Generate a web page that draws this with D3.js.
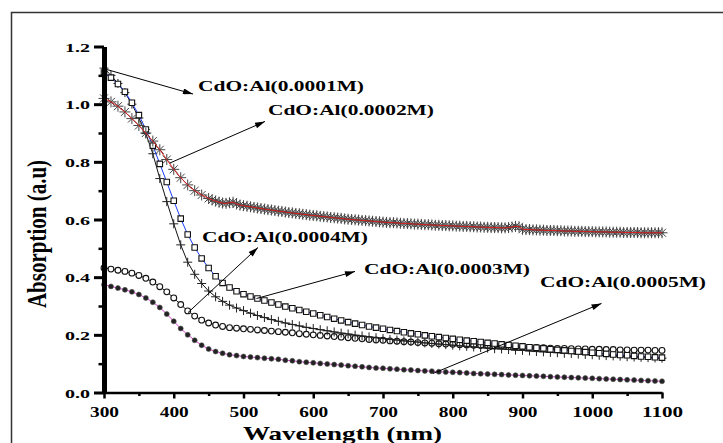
<!DOCTYPE html>
<html><head><meta charset="utf-8">
<script src="https://cdn.jsdelivr.net/npm/d3@7"></script>
<style>body{margin:0;background:#fff}</style>
</head><body><svg id="c" width="723" height="443"></svg>
<script>
const wl10 = [300,310,320,330,340,350,360,370,380,390,400,410,420,430,440,450,460,470,480,490,500,510,520,530,540,550,560,570,580,590,600,610,620,630,640,650,660,670,680,690,700,710,720,730,740,750,760,770,780,790,800,810,820,830,840,850,860,870,880,890,900,910,920,930,940,950,960,970,980,990,1000,1010,1020,1030,1040,1050,1060,1070,1080,1090,1100];
const wlStar = [300,310,320,330,340,350,360,370,380,390,400,410,420,430,440,
450,455,460,465,470,475,480,485,490,495,500,505,510,515,520,525,530,535,540,545,550,555,560,565,570,575,580,585,590,595,600,605,610,615,620,625,630,635,640,645,650,655,660,665,670,675,680,685,690,695,700,705,710,715,720,725,730,735,740,745,750,755,760,765,770,775,780,785,790,795,800,805,810,815,820,825,830,835,840,845,850,855,860,865,870,875,880,885,890,895,900,905,910,915,920,925,930,935,940,945,950,955,960,965,970,975,980,985,990,995,1000,1005,1010,1015,1020,1025,1030,1035,1040,1045,1050,1055,1060,1065,1070,1075,1080,1085,1090,1095,1100];

const s0001 = [1.125,1.100,1.072,1.040,1.000,0.952,0.898,0.828,0.742,0.662,
0.585,0.512,0.452,0.410,0.378,0.352,0.332,0.316,0.303,0.293,
0.284,0.275,0.267,0.260,0.253,0.247,0.241,0.236,0.231,0.226,
0.222,0.218,0.214,0.210,0.206,0.203,0.199,0.196,0.193,0.190,
0.187,0.184,0.182,0.179,0.177,0.175,0.172,0.170,0.168,0.166,
0.164,0.162,0.160,0.158,0.156,0.154,0.152,0.151,0.149,0.147,
0.146,0.144,0.142,0.141,0.139,0.138,0.136,0.135,0.133,0.132,
0.131,0.129,0.128,0.127,0.126,0.124,0.123,0.122,0.121,0.120,0.119];

const s0002 = [1.020,1.008,0.993,0.973,0.950,0.926,0.900,0.872,0.842,0.808,0.774,0.745,0.720,0.700,0.685,
0.673,0.668,0.664,0.660,0.657,0.656,0.658,0.660,0.654,0.650,
0.648,0.646,0.644,0.642,0.640,0.638,0.636,0.634,0.633,0.631,
0.629,0.628,0.626,0.624,0.623,0.621,0.620,0.618,0.617,0.615,
0.614,0.613,0.611,0.610,0.609,0.607,0.606,0.605,0.604,0.602,
0.601,0.600,0.599,0.598,0.597,0.596,0.595,0.594,0.593,0.592,
0.591,0.590,0.589,0.589,0.588,0.587,0.586,0.586,0.585,0.584,
0.584,0.583,0.582,0.582,0.581,0.580,0.580,0.579,0.579,0.578,
0.578,0.577,0.577,0.576,0.576,0.575,0.575,0.574,0.574,0.573,
0.573,0.572,0.572,0.572,0.571,0.571,0.572,0.574,0.576,0.575,
0.566,0.565,0.565,0.564,0.564,0.563,0.563,0.562,0.562,0.562,
0.561,0.561,0.560,0.560,0.560,0.559,0.559,0.559,0.558,0.558,
0.558,0.557,0.557,0.557,0.557,0.556,0.556,0.556,0.556,0.555,
0.555,0.555,0.555,0.555,0.554,0.554,0.554,0.554,0.554,0.554,0.554];

const s0003 = [1.110,1.092,1.070,1.043,1.005,0.962,0.912,0.856,0.793,0.730,
0.665,0.603,0.548,0.503,0.465,0.432,0.403,0.380,0.364,0.351,
0.341,0.333,0.326,0.319,0.312,0.305,0.298,0.292,0.286,0.280,
0.274,0.268,0.262,0.256,0.250,0.244,0.239,0.234,0.229,0.225,
0.221,0.217,0.213,0.209,0.205,0.202,0.198,0.195,0.192,0.189,
0.186,0.183,0.180,0.178,0.175,0.172,0.170,0.167,0.165,0.162,
0.160,0.157,0.155,0.153,0.150,0.148,0.146,0.144,0.142,0.140,
0.138,0.136,0.134,0.132,0.130,0.129,0.127,0.125,0.124,0.122,0.121];

const s0004 = [0.432,0.428,0.424,0.420,0.414,0.406,0.396,0.383,0.367,0.349,
0.328,0.305,0.283,0.265,0.251,0.241,0.234,0.229,0.225,0.223,
0.221,0.219,0.217,0.215,0.213,0.211,0.209,0.207,0.204,0.202,
0.200,0.198,0.196,0.194,0.192,0.190,0.188,0.186,0.184,0.182,
0.181,0.179,0.178,0.176,0.175,0.173,0.172,0.171,0.169,0.168,
0.167,0.166,0.165,0.164,0.163,0.162,0.161,0.160,0.159,0.158,
0.157,0.156,0.156,0.155,0.154,0.153,0.153,0.152,0.151,0.151,
0.150,0.150,0.149,0.149,0.148,0.148,0.147,0.147,0.147,0.146,0.146];

const s0005 = [0.374,0.368,0.362,0.356,0.349,0.340,0.328,0.313,0.295,0.272,
0.247,0.222,0.200,0.181,0.164,0.151,0.142,0.136,0.131,0.128,
0.125,0.123,0.121,0.119,0.117,0.115,0.112,0.110,0.107,0.105,
0.103,0.101,0.099,0.097,0.095,0.093,0.091,0.089,0.087,0.085,
0.084,0.082,0.081,0.079,0.078,0.076,0.075,0.074,0.072,0.071,
0.070,0.069,0.068,0.066,0.065,0.064,0.063,0.062,0.061,0.060,
0.059,0.058,0.057,0.056,0.055,0.054,0.053,0.052,0.051,0.050,
0.049,0.048,0.047,0.046,0.045,0.044,0.043,0.042,0.041,0.040,0.039];

const xTicks = [300,400,500,600,700,800,900,1000,1100];
const xMinor = [350,450,550,650,750,850,950,1050];
const yTicks = [0.0,0.2,0.4,0.6,0.8,1.0,1.2];
const yMinor = [0.1,0.3,0.5,0.7,0.9,1.1];
const xTitle = "Wavelength (nm)";
const yTitle = "Absorption (a.u)";

// annotation labels: [name, arrow start (nm, value), arrow end, label anchor]
const annotations = [
  {name:"CdO:Al(0.0001M)", from:[304.3,1.120], to:[427.6,1.035], at:[434.8,1.046]},
  {name:"CdO:Al(0.0002M)", from:[394.6,0.796], to:[530.8,0.940], at:[535.1,0.962]},
  {name:"CdO:Al(0.0004M)", from:[420.4,0.277], to:[520.8,0.503], at:[440.5,0.522]},
  {name:"CdO:Al(0.0003M)", from:[518.6,0.326], to:[659.9,0.420], at:[672.8,0.411]},
  {name:"CdO:Al(0.0005M)", from:[771.7,0.066], to:[1013.3,0.309], at:[925.1,0.366]}
];

const series = [
  {x:wl10,  y:s0005, marker:"dot",    line:"#e040e0"},
  {x:wl10,  y:s0004, marker:"circle", line:"#222"},
  {x:wl10,  y:s0001, marker:"plus",   line:"#111"},
  {x:wl10,  y:s0003, marker:"square", line:"#1a3cff"},
  {x:wlStar,y:s0002, marker:"star",   line:"#e02020"}
];

const FONT = "'Liberation Serif','Times New Roman',serif";
const svg = d3.select("#c");
const x = d3.scaleLinear().domain([300,1100]).range([104,662]);
const y = d3.scaleLinear().domain([0,1.2]).range([392.5,46.5]);

// frame
svg.append("rect").attr("x",11.5).attr("y",12.5).attr("width",740).attr("height",460)
  .attr("fill","none").attr("stroke","#333").attr("stroke-width",1.5);

// arrow marker
svg.append("defs").append("marker").attr("id","ah").attr("viewBox","0 0 10 6")
  .attr("refX",10).attr("refY",3).attr("markerWidth",11).attr("markerHeight",6)
  .attr("markerUnits","userSpaceOnUse").attr("orient","auto")
  .append("path").attr("d","M0,0L10,3L0,6Z").attr("fill","#000");

// series
const symPaths = {
  plus: "M-4.5,0H4.5M0,-4.5V4.5",
  star: "M-4,-4L4,4M-4,4L4,-4M0,-5.5V5.5M-5.5,0H5.5",
};
series.forEach(s=>{
  const pts = s.x.map((v,i)=>[v,s.y[i]]);
  const line = d3.line().x(d=>x(d[0])).y(d=>y(d[1]));
  const g = svg.append("g");
  if (s.marker !== "star")
    g.append("path").attr("d",line(pts)).attr("fill","none").attr("stroke",s.line).attr("stroke-width",1);
  const m = g.selectAll(".m").data(pts).enter();
  if (s.marker==="square") {
    m.append("path").attr("d",d3.symbol(d3.symbolSquare,30)())
      .attr("transform",d=>`translate(${x(d[0])},${y(d[1])})`)
      .attr("fill","#fff").attr("stroke","#111").attr("stroke-width",1.1);
  } else if (s.marker==="circle") {
    m.append("circle").attr("cx",d=>x(d[0])).attr("cy",d=>y(d[1])).attr("r",2.9)
      .attr("fill","#fff").attr("stroke","#111").attr("stroke-width",1.1);
  } else if (s.marker==="dot") {
    m.append("circle").attr("cx",d=>x(d[0])).attr("cy",d=>y(d[1])).attr("r",2.5)
      .attr("fill","#222").attr("stroke","#555").attr("stroke-width",0.6);
  } else {
    m.append("path").attr("d",symPaths[s.marker])
      .attr("transform",d=>`translate(${x(d[0])},${y(d[1])})`)
      .attr("fill","none").attr("stroke",s.marker==="star"?"#444":"#222").attr("stroke-width",1);
  }
  if (s.marker === "star")
    g.append("path").attr("d",line(pts)).attr("fill","none").attr("stroke",s.line).attr("stroke-width",1);
});

// axes
const xAxis = svg.append("g").attr("transform","translate(0,392.5)")
  .call(d3.axisBottom(x).tickValues(xTicks).tickSize(6).tickSizeOuter(0).tickFormat(d3.format("d")));
xAxis.select(".domain").attr("stroke","#000").attr("stroke-width",2.5);
xAxis.selectAll(".tick line").attr("stroke","#000").attr("stroke-width",2.5);
xAxis.selectAll(".tick text").attr("y",24).attr("dy",0).attr("fill","#000")
  .attr("font-family",FONT).attr("font-weight","bold").attr("font-size",14.5)
  .attr("textLength",d=>d>=1000?41:29).attr("lengthAdjust","spacingAndGlyphs");
svg.append("g").attr("transform","translate(0,392.5)")
  .call(d3.axisBottom(x).tickValues(xMinor).tickSize(3.5).tickFormat(""))
  .call(g=>{g.select(".domain").remove(); g.selectAll(".tick line").attr("stroke","#000").attr("stroke-width",2.5);});

const yAxis = svg.append("g").attr("transform","translate(104,0)")
  .call(d3.axisLeft(y).tickValues(yTicks).tickSize(10).tickSizeOuter(0).tickFormat(d3.format(".1f")));
yAxis.select(".domain").attr("stroke","#000").attr("stroke-width",5);
yAxis.selectAll(".tick line").attr("stroke","#000").attr("stroke-width",3);
yAxis.selectAll(".tick text").attr("x",-14).attr("dy","0.34em").attr("fill","#000")
  .attr("font-family",FONT).attr("font-weight","bold").attr("font-size",13.5)
  .attr("textLength",25).attr("lengthAdjust","spacingAndGlyphs");
svg.append("g").attr("transform","translate(104,0)")
  .call(d3.axisLeft(y).tickValues(yMinor).tickSize(5.5).tickFormat(""))
  .call(g=>{g.select(".domain").remove(); g.selectAll(".tick line").attr("stroke","#000").attr("stroke-width",2.5);});

// titles
svg.append("text").attr("x",243).attr("y",440).attr("font-family",FONT).attr("font-weight","bold")
  .attr("font-size",19.5).attr("textLength",199).attr("lengthAdjust","spacingAndGlyphs").text(xTitle);
svg.append("text").attr("transform","translate(46,234) rotate(-90) scale(1,1.35)")
  .attr("text-anchor","middle").attr("font-family",FONT).attr("font-weight","bold")
  .attr("font-size",21).text(yTitle);

// annotations
annotations.forEach(a=>{
  svg.append("line").attr("x1",x(a.from[0])).attr("y1",y(a.from[1]))
    .attr("x2",x(a.to[0])).attr("y2",y(a.to[1])).attr("stroke","#000").attr("stroke-width",1)
    .attr("marker-end","url(#ah)");
  svg.append("text").attr("x",x(a.at[0])).attr("y",y(a.at[1])).attr("font-family",FONT)
    .attr("font-weight","bold").attr("font-size",15).attr("textLength",166)
    .attr("lengthAdjust","spacingAndGlyphs").text(a.name);
});
</script></body></html>
